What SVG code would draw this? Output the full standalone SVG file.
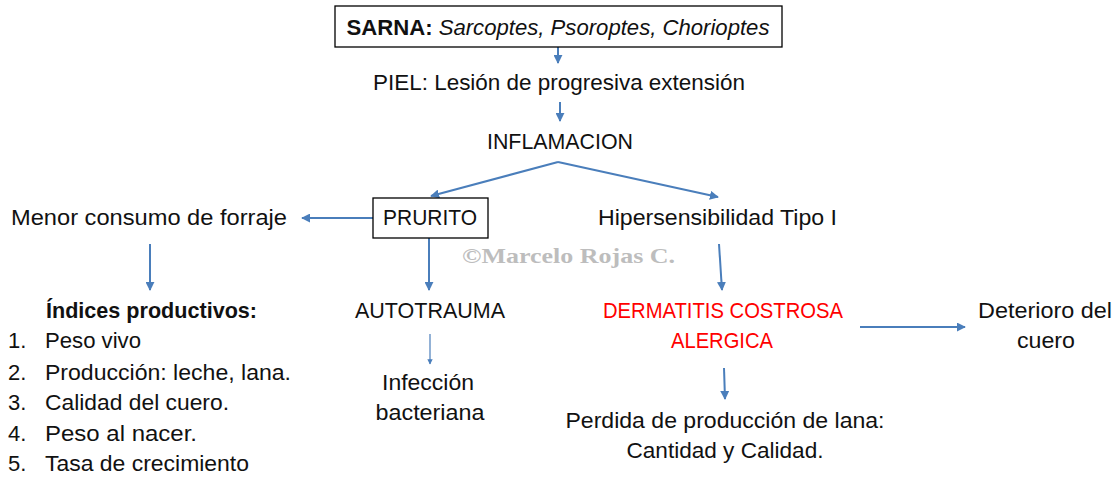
<svg xmlns="http://www.w3.org/2000/svg" width="1120" height="477" viewBox="0 0 1120 477">
<defs>
<marker id="ah" viewBox="0 0 10 10" refX="9" refY="5" markerWidth="4.5" markerHeight="4.5" orient="auto" markerUnits="strokeWidth">
<path d="M0,0 L10,5 L0,10 z" fill="#4a7ebb"/>
</marker>
<style>
text{font-family:"Liberation Sans",Arial,sans-serif;font-size:22px;fill:#111}
.c{text-anchor:middle}
.b{font-weight:bold}
.red{fill:#ff0000}
.box{fill:#fff;stroke:#000;stroke-width:1.3}
.con line{stroke:#4a7ebb;stroke-width:2;marker-end:url(#ah)}
.wm{font-family:"Liberation Serif","DejaVu Serif",serif;font-weight:bold;fill:#bdbdbd;font-size:22px}
</style>
</defs>
<rect width="1120" height="477" fill="#fff"/>
<g class="con">
<line x1="558" y1="47" x2="558" y2="63"/>
<line x1="560" y1="102" x2="560" y2="121"/>
<line x1="558" y1="162" x2="431" y2="196"/>
<line x1="558" y1="162" x2="718" y2="197"/>
<line x1="373" y1="218" x2="302" y2="218"/>
<line x1="150" y1="244" x2="150" y2="290"/>
<line x1="429" y1="238" x2="429" y2="290"/>
<line x1="719" y1="244" x2="722" y2="290"/>
<line x1="430" y1="334" x2="430" y2="364" style="stroke-width:1.2"/>
<line x1="860" y1="327" x2="965" y2="327"/>
<line x1="724" y1="368" x2="725" y2="399"/>
</g>
<g id="sarna">
<rect class="box" x="335" y="6" width="447" height="41"/>
<text x="558" y="35" class="c" textLength="423" lengthAdjust="spacingAndGlyphs"><tspan class="b">SARNA:</tspan> <tspan font-style="italic">Sarcoptes, Psoroptes, Chorioptes</tspan></text>
</g>
<g id="piel"><text x="559" y="90" class="c" textLength="372" lengthAdjust="spacingAndGlyphs">PIEL: Lesión de progresiva extensión</text></g>
<g id="inflamacion"><text x="560" y="149" class="c" textLength="146" lengthAdjust="spacingAndGlyphs">INFLAMACION</text></g>
<g id="prurito">
<rect class="box" x="373" y="198" width="115" height="40"/>
<text x="430" y="225" class="c" textLength="94" lengthAdjust="spacingAndGlyphs">PRURITO</text>
</g>
<g id="menor"><text x="11" y="225" textLength="276" lengthAdjust="spacingAndGlyphs">Menor consumo de forraje</text></g>
<g id="hiper"><text x="598" y="225" textLength="239" lengthAdjust="spacingAndGlyphs">Hipersensibilidad Tipo I</text></g>
<g id="watermark"><text class="wm" x="462" y="263" textLength="213" lengthAdjust="spacingAndGlyphs">©Marcelo Rojas C.</text></g>
<g id="indices">
<text x="46" y="318" class="b" textLength="211" lengthAdjust="spacingAndGlyphs">Índices productivos:</text>
<text x="8" y="348">1.</text><text x="45" y="348" textLength="96" lengthAdjust="spacingAndGlyphs">Peso vivo</text>
<text x="8" y="380">2.</text><text x="45" y="380" textLength="246" lengthAdjust="spacingAndGlyphs">Producción: leche, lana.</text>
<text x="8" y="410">3.</text><text x="45" y="410" textLength="184" lengthAdjust="spacingAndGlyphs">Calidad del cuero.</text>
<text x="8" y="441">4.</text><text x="45" y="441" textLength="152" lengthAdjust="spacingAndGlyphs">Peso al nacer.</text>
<text x="8" y="471">5.</text><text x="45" y="471" textLength="204" lengthAdjust="spacingAndGlyphs">Tasa de crecimiento</text>
</g>
<g id="autotrauma"><text x="430" y="318" class="c" textLength="150" lengthAdjust="spacingAndGlyphs">AUTOTRAUMA</text></g>
<g id="infeccion">
<text x="428" y="390" class="c" textLength="92" lengthAdjust="spacingAndGlyphs">Infección</text>
<text x="430" y="420" class="c" textLength="109" lengthAdjust="spacingAndGlyphs">bacteriana</text>
</g>
<g id="dermatitis">
<text x="723" y="318" class="c red" textLength="240" lengthAdjust="spacingAndGlyphs">DERMATITIS COSTROSA</text>
<text x="722" y="348" class="c red" textLength="102" lengthAdjust="spacingAndGlyphs">ALERGICA</text>
</g>
<g id="deterioro">
<text x="1045" y="318" class="c" textLength="134" lengthAdjust="spacingAndGlyphs">Deterioro del</text>
<text x="1046" y="348" class="c" textLength="58" lengthAdjust="spacingAndGlyphs">cuero</text>
</g>
<g id="perdida">
<text x="725" y="428" class="c" textLength="319" lengthAdjust="spacingAndGlyphs">Perdida de producción de lana:</text>
<text x="725" y="458" class="c" textLength="197" lengthAdjust="spacingAndGlyphs">Cantidad y Calidad.</text>
</g>
</svg>
